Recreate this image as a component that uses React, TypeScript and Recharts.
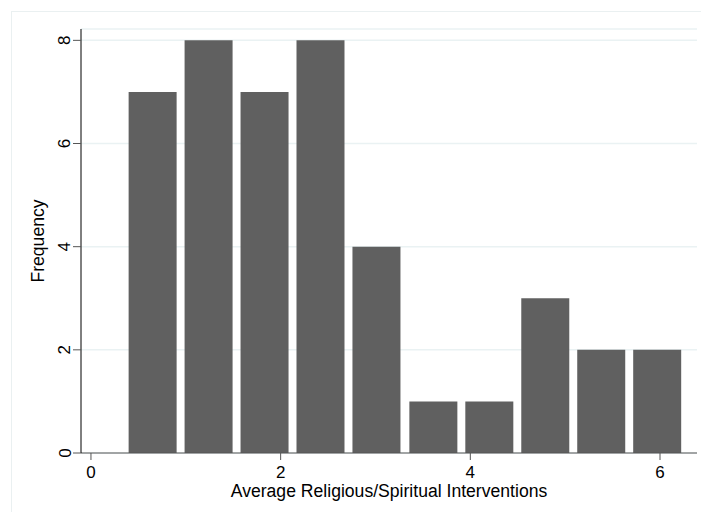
import { Bar, BarChart, CartesianGrid, XAxis, YAxis } from 'recharts'

// histogram bins: midpoint of each bin and its count
const binMids = [0.65, 1.24, 1.83, 2.42, 3.01, 3.61, 4.2, 4.79, 5.38, 5.97]
const counts = [7, 8, 7, 8, 4, 1, 1, 3, 2, 2]
const xTicks = [0, 2, 4, 6]
const yTicks = [0, 2, 4, 6, 8]

const data = binMids.map((mid, i) => ({ mid, count: counts[i] }))

const font = '"Liberation Sans", Arial, Helvetica, sans-serif'

function YTick({ x, y, payload }: any) {
  const cx = x - 6
  return (
    <text
      x={cx}
      y={y}
      transform={`rotate(-90, ${cx}, ${y})`}
      textAnchor="middle"
      dominantBaseline="central"
      fontSize={17}
      fontFamily={font}
      fill="#000"
    >
      {payload.value}
    </text>
  )
}

function XTick({ x, y, payload }: any) {
  return (
    <text x={x} y={y + 16} textAnchor="middle" fontSize={17} fontFamily={font} fill="#000">
      {payload.value}
    </text>
  )
}

export default function App() {
  return (
    <div style={{ position: 'absolute', left: 0, top: 0, width: 701, height: 512, background: '#fff', overflow: 'hidden' }}>
      <div
        style={{
          position: 'absolute',
          left: 11,
          top: 11,
          width: 700,
          height: 510,
          borderLeft: '1px solid #eaf0f1',
          borderTop: '1px solid #eaf0f1',
        }}
      />
      <BarChart
        width={701}
        height={512}
        data={data}
        margin={{ top: 29, right: 4, bottom: 0, left: 41 }}
        style={{ position: 'absolute', left: 0, top: 0 }}
      >
        <CartesianGrid vertical={false} stroke="#eaf2f3" strokeWidth={1.5} />
        <XAxis
          dataKey="mid"
          type="number"
          domain={[-0.105, 6.39]}
          ticks={xTicks}
          allowDataOverflow
          height={59}
          stroke="#000"
          tickLine={{ stroke: '#555' }}
          axisLine={{ stroke: '#555' }}
          tickSize={7}
          tick={<XTick />}
          label={{ value: 'Average Religious/Spiritual Interventions', position: 'insideBottom', offset: 15, fontSize: 17.6, fontFamily: font, fill: '#000' }}
        />
        <YAxis
          type="number"
          domain={[0, 8.22]}
          ticks={yTicks}
          allowDataOverflow
          width={40}
          tickLine={{ stroke: '#555' }}
          axisLine={{ stroke: '#000' }}
          tickSize={8}
          tick={<YTick />}
          label={{ value: 'Frequency', angle: -90, position: 'insideLeft', offset: 0, dx: -3, fontSize: 17.6, fontFamily: font, fill: '#000', style: { textAnchor: 'middle' } }}
        />
        <Bar dataKey="count" fill="#606060" barSize={48} isAnimationActive={false} />
      </BarChart>
    </div>
  )
}
